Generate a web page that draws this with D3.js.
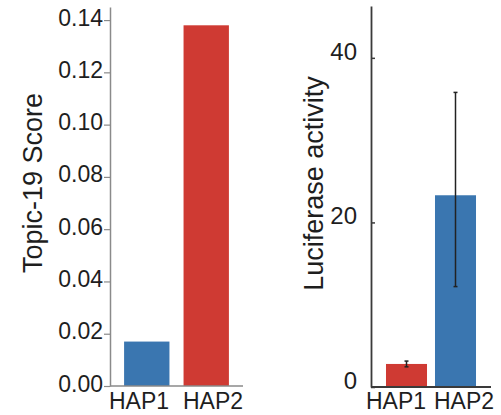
<!DOCTYPE html>
<html><head><meta charset="utf-8">
<script src="https://cdn.jsdelivr.net/npm/d3@7"></script>
<style>
body{margin:0;background:#fff;}
svg{display:block;font-family:"Liberation Sans",Arial,sans-serif;}
</style></head>
<body><svg id="c" width="501" height="415"></svg>
<script>
const categories = ["HAP1","HAP2"];
const topicScores = [0.017, 0.138];
const topicTicks = [0, 0.02, 0.04, 0.06, 0.08, 0.10, 0.12, 0.14];
const lucMeans = [2.8, 23.3];
const lucErrLow = [0.35, 11.1];
const lucErrHigh = [0.35, 12.5];
const lucTicks = [0, 20, 40];
const leftColors = ["#3a76b0", "#cf3a33"];
const rightColors = ["#cf3a33", "#3a76b0"];

const svg = d3.select("#c");
const textColor = "#1e1e1e";

// ---------- Left panel ----------
const yL = d3.scaleLinear().domain([0, 0.145]).range([386, 7]);
const xL = d3.scaleBand().domain(categories).range([110, 243]).paddingInner(0.237).paddingOuter(0.237);
const xLl = d3.scalePoint().domain(categories).range([139, 213]);

const gL = svg.append("g");
gL.selectAll("rect").data(categories).join("rect")
  .attr("x", d => xL(d)).attr("width", xL.bandwidth())
  .attr("y", (d,i) => yL(topicScores[i]))
  .attr("height", (d,i) => yL(0) - yL(topicScores[i]))
  .attr("fill", (d,i) => leftColors[i]);

const axL = gL.append("g").attr("transform", "translate(110,0)")
  .call(d3.axisLeft(yL).tickValues(topicTicks).tickFormat(d3.format(".2f")).tickSize(6).tickPadding(1).tickSizeOuter(0));
axL.select(".domain").attr("stroke", "#8a8a8a").attr("stroke-width", 1.5);
axL.selectAll(".tick line").attr("stroke", "#8a8a8a").attr("stroke-width", 1.2);
axL.selectAll(".tick text").attr("font-size", 23).attr("fill", textColor).attr("dy", "0.22em");

gL.append("line").attr("x1", 110).attr("x2", 243).attr("y1", yL(0)).attr("y2", yL(0))
  .attr("stroke", "#8a8a8a").attr("stroke-width", 1.5);
gL.selectAll("text.xl").data(categories).join("text").attr("class","xl")
  .attr("x", d => xLl(d)).attr("y", 409).attr("text-anchor","middle")
  .attr("font-size", 23).attr("fill", textColor).text(d => d);
gL.append("text").attr("transform", "translate(42,183) rotate(-90)")
  .attr("text-anchor","middle").attr("font-size", 27).attr("fill", textColor).text("Topic-19 Score");

// ---------- Right panel ----------
const yR = d3.scaleLinear().domain([0, 46.3]).range([387, 6]);
const xR = d3.scaleBand().domain(categories).range([371, 491]).paddingInner(0.163).paddingOuter(0.306);
const xRl = d3.scalePoint().domain(categories).range([396, 464]);

const gR = svg.append("g");
gR.selectAll("rect").data(categories).join("rect")
  .attr("x", d => xR(d)).attr("width", xR.bandwidth())
  .attr("y", (d,i) => yR(lucMeans[i]))
  .attr("height", (d,i) => yR(0) - yR(lucMeans[i]))
  .attr("fill", (d,i) => rightColors[i]);

// error bars
const eb = gR.selectAll("g.eb").data(categories).join("g").attr("class","eb");
const cx = d => xR(d) + xR.bandwidth()/2;
eb.append("line")
  .attr("x1", cx).attr("x2", cx)
  .attr("y1", (d,i) => yR(lucMeans[i] - lucErrLow[i])).attr("y2", (d,i) => yR(lucMeans[i] + lucErrHigh[i]))
  .attr("stroke", "#222").attr("stroke-width", 1.5);
eb.append("line")
  .attr("x1", d => cx(d) - 2).attr("x2", d => cx(d) + 2)
  .attr("y1", (d,i) => yR(lucMeans[i] + lucErrHigh[i])).attr("y2", (d,i) => yR(lucMeans[i] + lucErrHigh[i]))
  .attr("stroke", "#222").attr("stroke-width", 1.5);
eb.append("line")
  .attr("x1", d => cx(d) - 2).attr("x2", d => cx(d) + 2)
  .attr("y1", (d,i) => yR(lucMeans[i] - lucErrLow[i])).attr("y2", (d,i) => yR(lucMeans[i] - lucErrLow[i]))
  .attr("stroke", "#222").attr("stroke-width", 1.5);

const axR = gR.append("g").attr("transform", "translate(371,0)")
  .call(d3.axisLeft(yR).tickValues(lucTicks).tickFormat(d3.format("d")).tickSize(-4).tickPadding(14).tickSizeOuter(0));
axR.select(".domain").attr("stroke", "#3a3a3a").attr("stroke-width", 1.8);
axR.selectAll(".tick line").attr("stroke", "#3a3a3a").attr("stroke-width", 1.5);
axR.selectAll(".tick text").attr("font-size", 24).attr("fill", textColor).attr("dy", "0.05em");

gR.append("line").attr("x1", 371).attr("x2", 491).attr("y1", yR(0)).attr("y2", yR(0))
  .attr("stroke", "#3a3a3a").attr("stroke-width", 1.8);
gR.selectAll("text.xr").data(categories).join("text").attr("class","xr")
  .attr("x", d => xRl(d)).attr("y", 409).attr("text-anchor","middle")
  .attr("font-size", 23).attr("fill", textColor).text(d => d);
gR.append("text").attr("transform", "translate(323,183.5) rotate(-90)")
  .attr("text-anchor","middle").attr("font-size", 27).attr("fill", textColor).text("Luciferase activity");
</script></body></html>
